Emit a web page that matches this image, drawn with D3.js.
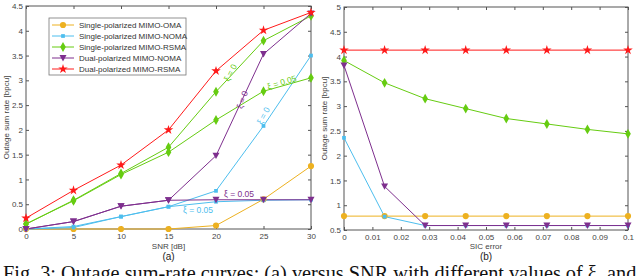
<!DOCTYPE html>
<html>
<head>
<meta charset="utf-8">
<script src="https://cdn.jsdelivr.net/npm/d3@7"></script>
<style>
  body { margin: 0; background: #fff; }
  svg { display: block; font-family: "Liberation Sans", Arial, sans-serif; }
  .tick text { fill: #444; font-size: 8px; }
  .tick line, .domain { stroke: #555; }
</style>
</head>
<body>
<svg id="chart" width="640" height="276"></svg>
<script>
// ---- data (a) : outage sum rate vs SNR ----
const snr = [0, 5, 10, 15, 20, 25, 30];
const omaA = [0, 0, 0, 0, 0.07, 0.6, 1.27];
const spNomaXi0 = [0, 0.05, 0.25, 0.45, 0.77, 2.08, 3.5];
const spNomaXi05 = [0, 0.03, 0.25, 0.45, 0.55, 0.58, 0.59];
const spRsmaXi0 = [0.1, 0.58, 1.12, 1.65, 2.77, 3.8, 4.3];
const spRsmaXi05 = [0.1, 0.57, 1.1, 1.55, 2.2, 2.78, 3.05];
const dpNomaXi0 = [0, 0.15, 0.46, 0.58, 1.48, 3.53, 4.35];
const dpNomaXi05 = [0, 0.15, 0.46, 0.58, 0.59, 0.59, 0.59];
const dpRsmaA = [0.22, 0.78, 1.29, 2.0, 3.19, 4.01, 4.37];

// ---- data (b) : outage sum rate vs SIC error ----
const sicErr = [0, 0.1 / 7, 0.2 / 7, 0.3 / 7, 0.4 / 7, 0.5 / 7, 0.6 / 7, 0.1];
const omaB = [0.78, 0.78, 0.78, 0.78, 0.78, 0.78, 0.78, 0.78];
const spNomaB = [2.36, 0.77, 0.59, 0.59, 0.59, 0.59, 0.59, 0.59];
const spRsmaB = [3.92, 3.47, 3.15, 2.95, 2.75, 2.64, 2.53, 2.44];
const dpNomaB = [3.82, 1.38, 0.59, 0.59, 0.59, 0.59, 0.59, 0.59];
const dpRsmaB = [4.13, 4.13, 4.13, 4.13, 4.13, 4.13, 4.13, 4.13];

const legendLabels = [
  'Single-polarized MIMO-OMA',
  'Single-polarized MIMO-NOMA',
  'Single-polarized MIMO-RSMA',
  'Dual-polarized MIMO-NOMA',
  'Dual-polarized MIMO-RSMA'
];

const colors = ['#EDB120', '#4DBEEE', '#66CC11', '#7E2F8E', '#FF1A1A'];
const shapes = [d3.symbolCircle, d3.symbolSquare, d3.symbolDiamond, 'tri', d3.symbolStar];

const svg = d3.select('#chart');

function marker(g, kind, x, y, color) {
  if (kind === 'tri') {
    g.append('path')
      .attr('d', `M${x - 3.5},${y - 3} L${x + 3.5},${y - 3} L${x},${y + 3.4} Z`)
      .attr('fill', color);
    return;
  }
  let size = 30;
  if (kind === d3.symbolSquare) size = 14;
  if (kind === d3.symbolDiamond) size = 28;
  if (kind === d3.symbolStar) size = 28;
  g.append('path')
    .attr('d', d3.symbol().type(kind).size(size)())
    .attr('transform', `translate(${x},${y})`)
    .attr('fill', color);
}

function drawPanel(opts) {
  const { xr, yr, xd, yd, xticks, yticks, xfmt, series, xlabel, sub } = opts;
  const x = d3.scaleLinear().domain(xd).range(xr);
  const y = d3.scaleLinear().domain(yd).range(yr);
  const g = svg.append('g');

  // box
  g.append('rect')
    .attr('x', xr[0]).attr('y', yr[1])
    .attr('width', xr[1] - xr[0]).attr('height', yr[0] - yr[1])
    .attr('fill', 'none').attr('stroke', '#555');

  g.append('g').attr('transform', `translate(0,${yr[0]})`)
    .call(d3.axisBottom(x).tickValues(xticks).tickSize(-3).tickPadding(4).tickFormat(xfmt))
    .call(a => a.select('.domain').remove());
  g.append('g').attr('transform', `translate(0,${yr[1]})`)
    .call(d3.axisTop(x).tickValues(xticks).tickSize(-3).tickFormat(''))
    .call(a => a.select('.domain').remove());
  g.append('g').attr('transform', `translate(${xr[0]},0)`)
    .call(d3.axisLeft(y).tickValues(yticks).tickSize(-3).tickPadding(3).tickFormat(d => d))
    .call(a => a.select('.domain').remove());
  g.append('g').attr('transform', `translate(${xr[1]},0)`)
    .call(d3.axisRight(y).tickValues(yticks).tickSize(-3).tickFormat(''))
    .call(a => a.select('.domain').remove());

  const line = d3.line().x(d => x(d[0])).y(d => y(d[1]));
  series.forEach(s => {
    const pts = s.xs.map((v, i) => [v, s.ys[i]]);
    g.append('path').datum(pts)
      .attr('d', line).attr('fill', 'none')
      .attr('stroke', colors[s.c]).attr('stroke-width', 1);
  });
  series.forEach(s => {
    s.xs.forEach((v, i) => marker(g, shapes[s.c], x(v), y(s.ys[i]), colors[s.c]));
  });

  const cx = (xr[0] + xr[1]) / 2;
  g.append('text').attr('x', cx).attr('y', 249)
    .attr('text-anchor', 'middle').attr('font-size', 8).attr('fill', '#444').text(xlabel);
  g.append('text').attr('x', cx).attr('y', 260)
    .attr('text-anchor', 'middle').attr('font-size', 10).attr('fill', '#222').text(sub);
  g.append('text')
    .attr('transform', `translate(${xr[0] - 17},${(yr[0] + yr[1]) / 2}) rotate(-90)`)
    .attr('text-anchor', 'middle').attr('font-size', 8).attr('fill', '#444')
    .text('Outage sum rate [bpcu]');
  return { x, y, g };
}

const pa = drawPanel({
  xr: [26, 311], yr: [229, 6], xd: [0, 30], yd: [0, 4.5],
  xticks: snr, yticks: d3.range(0, 4.51, 0.5), xfmt: d => d,
  xlabel: 'SNR [dB]', sub: '(a)',
  series: [
    { xs: snr, ys: omaA, c: 0 },
    { xs: snr, ys: spNomaXi0, c: 1 },
    { xs: snr, ys: spNomaXi05, c: 1 },
    { xs: snr, ys: spRsmaXi0, c: 2 },
    { xs: snr, ys: spRsmaXi05, c: 2 },
    { xs: snr, ys: dpNomaXi0, c: 3 },
    { xs: snr, ys: dpNomaXi05, c: 3 },
    { xs: snr, ys: dpRsmaA, c: 4 }
  ]
});

drawPanel({
  xr: [344, 628], yr: [230, 7], xd: [0, 0.1], yd: [0.5, 5],
  xticks: d3.range(0, 0.1001, 0.01), yticks: d3.range(0.5, 5.01, 0.5),
  xfmt: d => (d === 0 ? '0' : d3.format('.2~f')(d)),
  xlabel: 'SIC error', sub: '(b)',
  series: [
    { xs: sicErr, ys: omaB, c: 0 },
    { xs: sicErr, ys: spNomaB, c: 1 },
    { xs: sicErr, ys: spRsmaB, c: 2 },
    { xs: sicErr, ys: dpNomaB, c: 3 },
    { xs: sicErr, ys: dpRsmaB, c: 4 }
  ]
});

// legend
const lg = pa.g.append('g');
lg.append('rect').attr('x', 49).attr('y', 18).attr('width', 137).attr('height', 57)
  .attr('fill', '#fff').attr('stroke', '#777').attr('stroke-width', 0.8);
legendLabels.forEach((t, i) => {
  const yy = 25 + i * 11;
  lg.append('line').attr('x1', 52).attr('x2', 74).attr('y1', yy).attr('y2', yy)
    .attr('stroke', colors[i]).attr('stroke-width', 1);
  marker(lg, shapes[i], 63, yy, colors[i]);
  lg.append('text').attr('x', 79).attr('y', yy + 3)
    .attr('font-size', 8).attr('fill', '#333').text(t);
});

// ξ annotations
const notes = [
  { t: 'ξ = 0', x: 231, y: 73, r: -62, c: 2 },
  { t: 'ξ = 0', x: 243, y: 100, r: -70, c: 3 },
  { t: 'ξ = 0.05', x: 282, y: 83, r: -17, c: 2 },
  { t: 'ξ = 0', x: 264, y: 116, r: -62, c: 1 },
  { t: 'ξ = 0.05', x: 239, y: 195, r: 0, c: 3 },
  { t: 'ξ = 0.05', x: 198, y: 211, r: 0, c: 1 }
];
notes.forEach(n => {
  pa.g.append('text')
    .attr('transform', `translate(${n.x},${n.y}) rotate(${n.r})`)
    .attr('text-anchor', 'middle').attr('dominant-baseline', 'middle')
    .attr('font-size', 8.5).attr('fill', colors[n.c]).text(n.t);
});

// caption
svg.append('text').attr('x', 3).attr('y', 280)
  .attr('font-family', '"Liberation Serif", "Times New Roman", serif')
  .attr('font-size', 20.3).attr('fill', '#111')
  .text('Fig. 3: Outage sum-rate curves: (a) versus SNR with different values of ξ, and');
</script>
</body>
</html>
